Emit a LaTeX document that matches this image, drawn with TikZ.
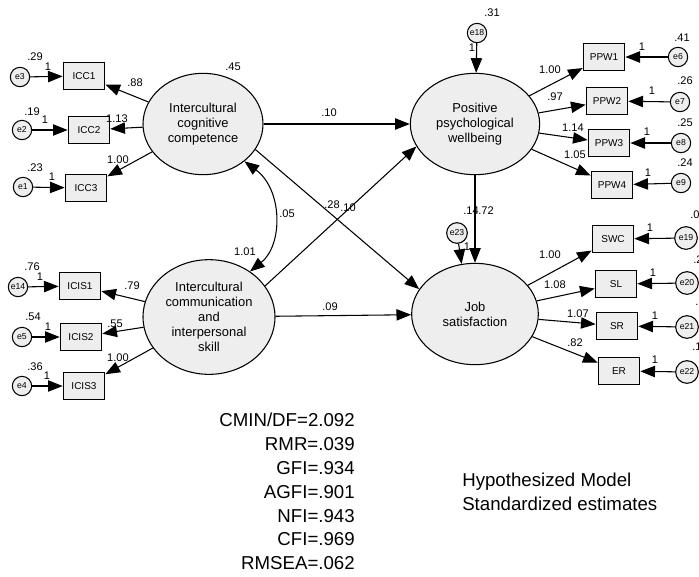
\documentclass[tikz,border=0pt]{standalone}
\usepackage{fontspec}
\setmainfont{Liberation Sans}
\usepackage{tikz}
\usetikzlibrary{arrows.meta, shapes.geometric}

\begin{document}
\begin{tikzpicture}[x=0.75pt, y=-0.75pt,
    latent/.style={ellipse, draw=black, line width=0.8pt, fill=gray!13, inner sep=0pt, align=center, font=\fontsize{9.7}{11.3}\selectfont},
    observed/.style={rectangle, draw=black, line width=1pt, fill=gray!13, minimum width=31pt, minimum height=20pt, inner sep=0pt, font=\fontsize{7.5}{8}\selectfont},
    err/.style={circle, draw=black, line width=0.8pt, fill=gray!13, minimum size=14.5pt, inner sep=0pt, font=\fontsize{6.5}{7}\selectfont},
    bigerr/.style={err, minimum size=17pt},
    coef/.style={font=\fontsize{8.3}{9}\selectfont, inner sep=0pt},
    fitlist/.style={font=\fontsize{14}{17.85}\selectfont, inner sep=0pt},
    arr/.style={line width=0.8pt, -{Triangle[length=11pt, width=8.5pt]}},
    dblarr/.style={line width=0.8pt, {Triangle[length=11pt, width=8.5pt]}-{Triangle[length=11pt, width=8.5pt]}}
]
    \useasboundingbox (0,0) rectangle (699,576);

    \node (icc) at (203,124)[latent, minimum width=90pt, minimum height=76pt] {Intercultural\\cognitive\\competence};
    \node (icis) at (209,317)[latent, minimum width=99pt, minimum height=86pt] {Intercultural\\communication\\and\\interpersonal\\skill};
    \node (ppw) at (475,124)[latent, minimum width=97pt, minimum height=76pt] {Positive\\psychological\\wellbeing};
    \node (js) at (475,314)[latent, minimum width=95pt, minimum height=76pt] {Job\\satisfaction};

    \node (icc1) at (84,76)[observed] {ICC1};
    \node (icc2) at (89,130)[observed] {ICC2};
    \node (icc3) at (86,188)[observed] {ICC3};
    \node (e3) at (20,77)[err] {e3};
    \node (e2) at (22,130)[err] {e2};
    \node (e1) at (23,187)[err] {e1};

    \node (icis1) at (80,286)[observed] {ICIS1};
    \node (icis2) at (81,337)[observed] {ICIS2};
    \node (icis3) at (84,386)[observed] {ICIS3};
    \node (e14) at (18,287)[err] {e14};
    \node (e5) at (22,337)[err] {e5};
    \node (e4) at (22,386)[err] {e4};

    \node (ppw1) at (604,57)[observed] {PPW1};
    \node (ppw2) at (607,101)[observed] {PPW2};
    \node (ppw3) at (609,143)[observed] {PPW3};
    \node (ppw4) at (612,185)[observed] {PPW4};
    \node (e6) at (678,57)[err] {e6};
    \node (e7) at (680,102)[err] {e7};
    \node (e8) at (681,143)[err] {e8};
    \node (e9) at (681,183)[err] {e9};
    \node (e18) at (477,33)[err] {e18};

    \node (swc) at (613,239)[observed] {SWC};
    \node (sl) at (616,284)[observed] {SL};
    \node (sr) at (617,326)[observed] {SR};
    \node (er) at (619,371)[observed] {ER};
    \node (e19) at (686,238)[bigerr] {e19};
    \node (e20) at (687,283)[bigerr] {e20};
    \node (e21) at (687,327)[bigerr] {e21};
    \node (e22) at (687,372)[bigerr] {e22};
    \node (e23) at (457,233)[err, minimum size=15.5pt] {e23};

    \draw[arr] (icc) -- (icc1);
    \draw[arr] (icc) -- (icc2);
    \draw[arr] (icc) -- (icc3);
    \draw[arr] (e3) -- (icc1);
    \draw[arr] (e2) -- (icc2);
    \draw[arr] (e1) -- (icc3);

    \draw[arr] (icis) -- (icis1);
    \draw[arr] (icis) -- (icis2);
    \draw[arr] (icis) -- (icis3);
    \draw[arr] (e14) -- (icis1);
    \draw[arr] (e5) -- (icis2);
    \draw[arr] (e4) -- (icis3);

    \draw[arr] (ppw) -- (ppw1);
    \draw[arr] (ppw) -- (ppw2);
    \draw[arr] (ppw) -- (ppw3);
    \draw[arr] (ppw) -- (ppw4);
    \draw[arr] (e6) -- (ppw1);
    \draw[arr] (e7) -- (ppw2);
    \draw[arr] (e8) -- (ppw3);
    \draw[arr] (e9) -- (ppw4);
    \draw[arr] (e18) -- (ppw);

    \draw[arr] (js) -- (swc);
    \draw[arr] (js) -- (sl);
    \draw[arr] (js) -- (sr);
    \draw[arr] (js) -- (er);
    \draw[arr] (e19) -- (swc);
    \draw[arr] (e20) -- (sl);
    \draw[arr] (e21) -- (sr);
    \draw[arr] (e22) -- (er);
    \draw[arr] (e23) -- (js.105);

    \draw[arr] (icc) -- (ppw);
    \draw[arr] (icc.-26) -- (js.156);
    \draw[arr] (icis.29) -- (ppw.-159);
    \draw[arr] (icis) -- (js);
    \draw[arr] (ppw) -- (js);
    \draw[dblarr] (icis.48) .. controls (283,245) and (283,190) .. (icc.-42);

    \node (v3) at (35,57)[coef] {.29};
    \node (w3) at (48,67)[coef] {1};
    \node (v2) at (32,112)[coef] {.19};
    \node (w2) at (45,120)[coef] {1};
    \node (v1) at (35,168)[coef] {.23};
    \node (w1) at (52,177)[coef] {1};
    \node (l-icc1) at (135,83)[coef] {.88};
    \node (l-icc2) at (117,119)[coef] {1.13};
    \node (l-icc3) at (118,160)[coef] {1.00};
    \node (v-icc) at (233,67)[coef] {.45};

    \node (v14) at (32,267)[coef] {.76};
    \node (w14) at (40,277)[coef] {1};
    \node (v5) at (33,317)[coef] {.54};
    \node (w5) at (48,327)[coef] {1};
    \node (v4) at (35,367)[coef] {.36};
    \node (w4) at (47,376)[coef] {1};
    \node (l-icis1) at (132,286)[coef] {.79};
    \node (l-icis2) at (115,324)[coef] {.55};
    \node (l-icis3) at (118,358)[coef] {1.00};
    \node (v-icis) at (245,252)[coef] {1.01};
    \node (c-icc-icis) at (287,214)[coef] {.05};

    \node (b-icc-ppw) at (329,113)[coef] {.10};
    \node (b-icc-js) at (332,205)[coef] {.28};
    \node (b-icis-ppw) at (348,208)[coef] {.10};
    \node (b-icis-js) at (330,307)[coef] {.09};
    \node (v-js) at (471,211)[coef] {.14};
    \node (b-ppw-js) at (486,211)[coef] {.72};
    \node (w23) at (467,247)[coef] {1};
    \node (v-ppw) at (492,13)[coef] {.31};
    \node (w18) at (472,48)[coef] {1};

    \node (l-ppw1) at (550,70)[coef] {1.00};
    \node (l-ppw2) at (555,97)[coef] {.97};
    \node (l-ppw3) at (573,128)[coef] {1.14};
    \node (l-ppw4) at (575,155)[coef] {1.05};
    \node (v6) at (682,38)[coef] {.41};
    \node (v7) at (685,81)[coef] {.26};
    \node (v8) at (685,123)[coef] {.25};
    \node (v9) at (685,163)[coef] {.24};
    \node (w6) at (642,47)[coef] {1};
    \node (w7) at (652,91)[coef] {1};
    \node (w8) at (647,132)[coef] {1};
    \node (w9) at (648,173)[coef] {1};

    \node (l-swc) at (550,255)[coef] {1.00};
    \node (l-sl) at (555,285)[coef] {1.08};
    \node (l-sr) at (578,314)[coef] {1.07};
    \node (l-er) at (575,343)[coef] {.82};
    \node (w19) at (650,228)[coef] {1};
    \node (w20) at (653,273)[coef] {1};
    \node (w21) at (655,316)[coef] {1};
    \node (w22) at (655,360)[coef] {1};
    \node (v19) at (690,215)[coef, anchor=west] {.0};
    \node (v20) at (693,260)[coef, anchor=west] {.2};
    \node (v21) at (695,302)[coef, anchor=west] {.1};
    \node (v22) at (692,347)[coef, anchor=west] {.1};

    \node (fit) at (355,413)[fitlist, anchor=north east, align=right] {CMIN/DF=2.092\\RMR=.039\\GFI=.934\\AGFI=.901\\NFI=.943\\CFI=.969\\RMSEA=.062};
    \node (title) at (462,473)[fitlist, anchor=north west, align=left] {Hypothesized Model\\Standardized estimates};
\end{tikzpicture}
\end{document}
